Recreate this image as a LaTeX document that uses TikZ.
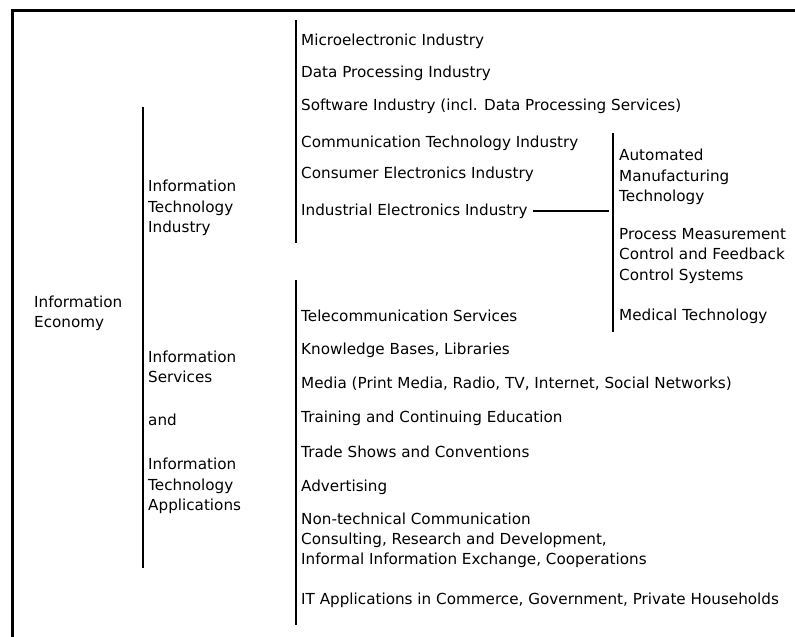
\documentclass[tikz,border=0pt]{standalone}
\usepackage{fontspec}
\setmainfont{DejaVu Sans}
\usetikzlibrary{calc}

\tikzset{
  item/.style={anchor=west, inner sep=0pt, align=left,
    font=\fontsize{15.2}{20.2}\selectfont},
  bar/.style={line width=1.6pt, black},
  frameline/.style={line width=3pt, black}
}

\begin{document}
\begin{tikzpicture}[x=1pt, y=-1pt]
\useasboundingbox (0,0) rectangle (795,637);
%the frame
\draw [frameline] (12,637) -- (12,10) -- (795,10);

%first level
\node (econ) [item] at (34,313) {Information\\Economy};
\draw [bar] (143,107) -- (143,568);

%second level
\node (iti) [item] at (148,208) {Information\\Technology\\Industry};
\node (isv) [item] at (148,367) {Information\\Services};
\node (and) [item] at (148,420) {and};
\node (ita) [item] at (148,486) {Information\\Technology\\Applications};
\draw [bar] (296,20) -- (296,243);
\draw [bar] (296,280) -- (296,625);

%industry branches
\node (micro) [item] at (301,41) {Microelectronic Industry};
\node (data) [item] at (301,73) {Data Processing Industry};
\node (soft) [item] at (301,106) {Software Industry (incl. Data Processing Services)};
\node (comm) [item] at (301,143) {Communication Technology Industry};
\node (cons) [item] at (301,174) {Consumer Electronics Industry};
\node (indu) [item] at (301,211) {Industrial Electronics Industry};

%industrial electronics
\draw [bar] (613,133) -- (613,332);
\coordinate (join) at (609,211);
\draw [bar] ($(indu.east)+(5,0)$) -- (join);
\node (auto) [item] at (619,177) {Automated\\Manufacturing\\Technology};
\node (proc) [item] at (619,256) {Process Measurement\\Control and Feedback\\Control Systems};
\node (medi) [item] at (619,316) {Medical Technology};

%service branches
\node (tele) [item] at (301,316) {Telecommunication Services};
\node (know) [item] at (301,350) {Knowledge Bases, Libraries};
\node (media) [item] at (301,384) {Media (Print Media, Radio, TV, Internet, Social Networks)};
\node (train) [item] at (301,418) {Training and Continuing Education};
\node (trade) [item] at (301,452) {Trade Shows and Conventions};
\node (adv) [item] at (301,487) {Advertising};
\node (nont) [item] at (301,540) {Non-technical Communication\\Consulting, Research and Development,\\Informal Information Exchange, Cooperations};
\node (itap) [item] at (301,600) {IT Applications in Commerce, Government, Private Households};
\end{tikzpicture}
\end{document}
